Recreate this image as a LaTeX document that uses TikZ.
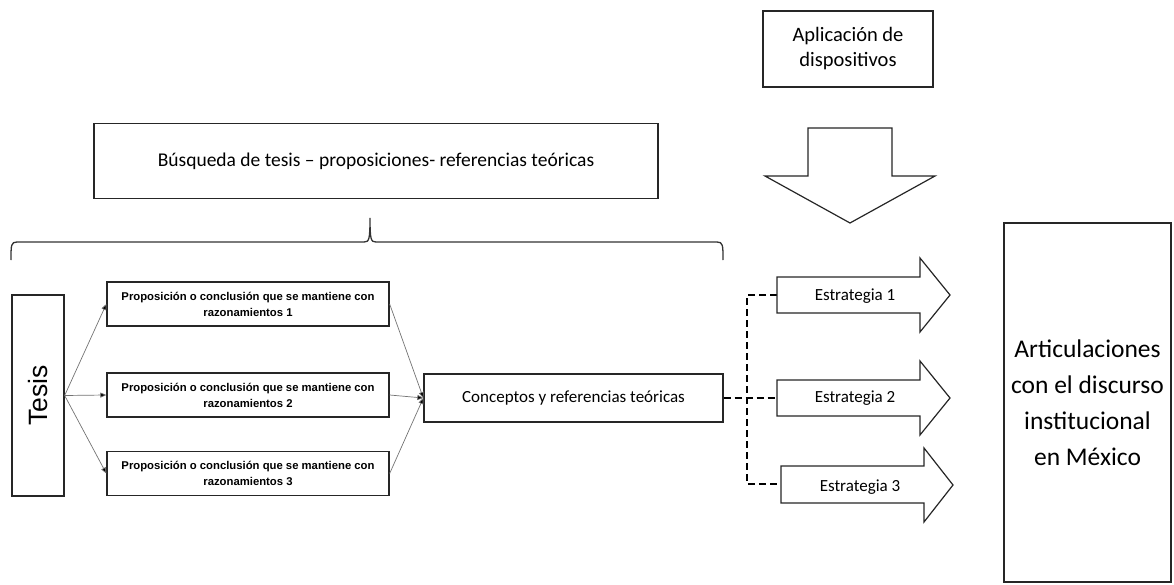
\documentclass[tikz,border=0pt]{standalone}
\usepackage{fontspec}
\setmainfont{Carlito}
\newfontfamily\arialf{Liberation Sans}
\usetikzlibrary{arrows.meta}
\begin{document}
\begin{tikzpicture}[x=1pt,y=-1pt,
  box/.style={draw=black!85, line width=1.3pt, fill=white, inner sep=0pt, align=center},
  propbox/.style={box, minimum width=282pt, minimum height=44pt, font=\arialf\bfseries\fontsize{11.3}{16}\selectfont},
  conn/.style={draw=black!55, line width=0.7pt, -{Triangle[length=6pt,width=5pt,fill=black]}},
  dashline/.style={draw=black, line width=2.6pt, dash pattern=on 7pt off 4pt},
  shapeline/.style={draw=black!85, line width=1.2pt, fill=white, line join=miter},
  estext/.style={inner sep=0pt, font=\fontsize{17}{20}\selectfont},
  bracel/.style={draw=black!80, line width=1.3pt}]
\useasboundingbox (0,0) rectangle (1174,585);

% top boxes
\node[box, minimum width=170pt, minimum height=76pt, font=\fontsize{20.5}{25}\selectfont] (apl) at (848,49) {Aplicación de\\dispositivos};
\node[box, minimum width=564pt, minimum height=75pt, font=\fontsize{19.5}{23}\selectfont] (bus) at (376,161) {Búsqueda de tesis -- proposiciones- referencias teóricas};

% down arrow
\draw[shapeline] (808,128) -- (892,128) -- (892,176) -- (935,176) -- (850,223) -- (765,176) -- (808,176) -- cycle;

% brace
\draw[bracel] (11,260) .. controls (11,245) and (11,242) .. (17,242) -- (364,242) .. controls (369,242) and (370,240) .. (370,218) .. controls (370,240) and (371,242) .. (376,242) -- (717,242) .. controls (723,242) and (723,245) .. (723,260);

% Tesis
\node[box, minimum width=52pt, minimum height=201pt] (tesis) at (38,395.5) {};
\node[rotate=90, inner sep=0pt, font=\arialf\fontsize{26.5}{30}\selectfont] (tesislbl) at (tesis.center) {Tesis};

% propositions
\node[propbox] (p1) at (248,304) {Proposición o conclusión que se mantiene con\\razonamientos 1};
\node[propbox] (p2) at (248,395) {Proposición o conclusión que se mantiene con\\razonamientos 2};
\node[propbox] (p3) at (248,473.5) {Proposición o conclusión que se mantiene con\\razonamientos 3};

% conceptos
\node[box, minimum width=299pt, minimum height=48pt, font=\fontsize{17}{20}\selectfont] (conc) at (573.5,398) {Conceptos y referencias teóricas};

% connectors
\draw[conn] (tesis.east) -- (p1.west);
\draw[conn] (tesis.east) -- (p2.west);
\draw[conn] (tesis.east) -- (p3.west);
\draw[conn] (p1.east) -- (conc.west);
\draw[conn] (p2.east) -- (conc.west);
\draw[conn] (p3.east) -- (conc.west);

% strategies
\coordinate (e1w) at (777,295);
\coordinate (e2w) at (777,398);
\coordinate (e3w) at (781,484);
\coordinate (j1) at (747,295);
\coordinate (j3) at (747,484);
\draw[dashline] (conc.east) -- (e2w);
\draw[dashline] (e1w) -- (j1) -- (j3) -- (e3w);

\draw[shapeline] (777,277) -- (920,277) -- (920,258) -- (950,295) -- (920,332) -- (920,313) -- (777,313) -- cycle;
\draw[shapeline] (777,380) -- (920,380) -- (920,361) -- (950,398) -- (920,435) -- (920,416) -- (777,416) -- cycle;
\draw[shapeline] (781,466) -- (924,466) -- (924,448) -- (953,485) -- (924,522) -- (924,503) -- (781,503) -- cycle;
\node[estext] (e1) at (855,296) {Estrategia 1};
\node[estext] (e2) at (855,398) {Estrategia 2};
\node[estext] (e3) at (860,487) {Estrategia 3};

% right box
\node[box, minimum width=167pt, minimum height=359pt, font=\fontsize{25.5}{36}\selectfont] (art) at (1087.5,402.5) {Articulaciones\\con el discurso\\institucional\\en México};
\end{tikzpicture}
\end{document}
